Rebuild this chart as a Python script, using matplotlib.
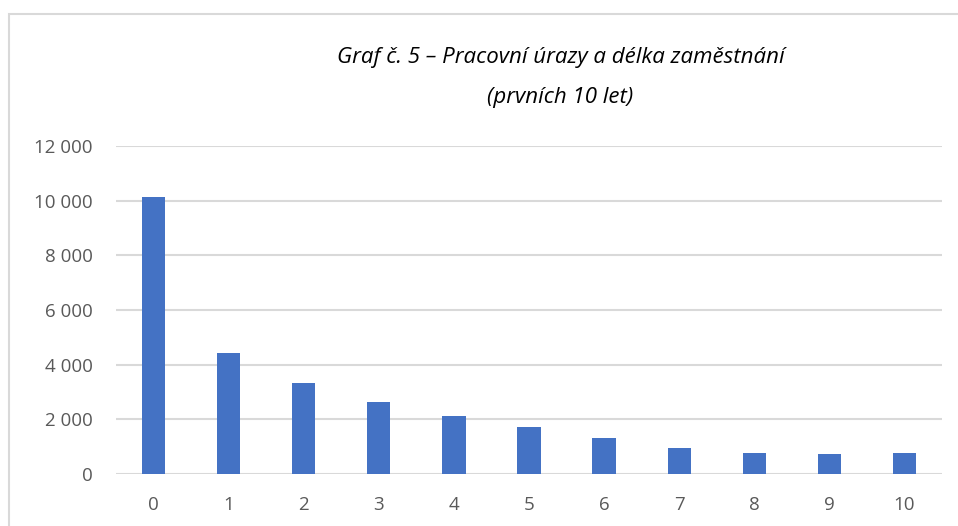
import matplotlib.pyplot as plt
from matplotlib.patches import Rectangle
from matplotlib.ticker import FuncFormatter

years = ["0", "1", "2", "3", "4", "5", "6", "7", "8", "9", "10"]
injuries = [10150, 4430, 3340, 2640, 2125, 1710, 1320, 950, 770, 735, 770]
y_ticks = [0, 2000, 4000, 6000, 8000, 10000, 12000]

plt.rcParams['font.family'] = ['Open Sans', 'DejaVu Sans']

fig = plt.figure(figsize=(9.58, 5.26), dpi=100)
ax = fig.add_axes([116 / 958, 1 - 474 / 526, 826 / 958, 328 / 526])

x = range(len(years))
ax.bar(x, injuries, width=0.31, color='#4472c4', zorder=3)

ax.set_xlim(-0.5, len(years) - 0.5)
ax.set_ylim(0, 12000)
ax.set_yticks(y_ticks)
ax.yaxis.set_major_formatter(FuncFormatter(lambda v, p: f"{int(v):,}".replace(",", " ")))
ax.set_xticks(list(x))
ax.set_xticklabels(years)

ax.grid(axis='y', color='#d9d9d9', linewidth=1.5, zorder=0)
for s in ax.spines.values():
    s.set_visible(False)
ax.tick_params(axis='both', length=0, labelsize=13.5, labelcolor='#595959')
ax.tick_params(axis='y', pad=17)
ax.tick_params(axis='x', pad=16)

fig.text(0.585, 1 - 58 / 526, "Graf č. 5 – Pracovní úrazy a délka zaměstnání",
         ha='center', va='center', fontsize=16, style='italic', color='#000000')
fig.text(0.585, 1 - 97 / 526, "(prvních 10 let)",
         ha='center', va='center', fontsize=16, style='italic', color='#000000')

# chart area border
fig.patches.append(Rectangle((9 / 958, -0.05), 1.0, 1 - 14 / 526 + 0.05,
                             transform=fig.transFigure, fill=False,
                             edgecolor='#d9d9d9', linewidth=1.5))

fig.savefig("out.png", dpi=100)
